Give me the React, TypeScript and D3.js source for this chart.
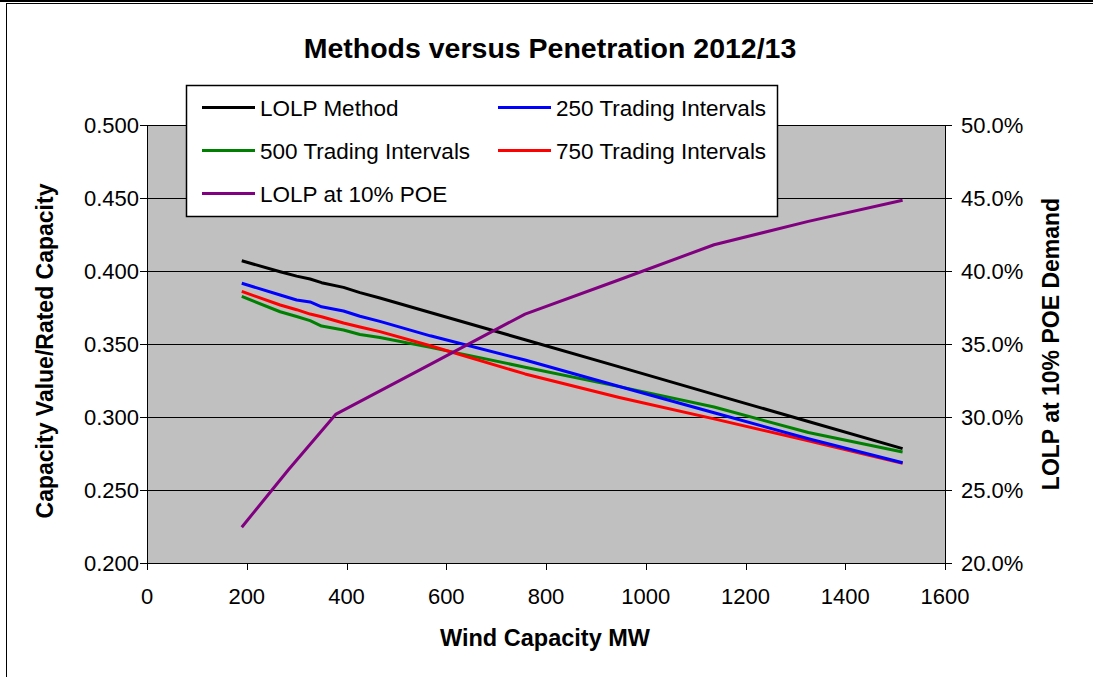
import React from "react";
import * as d3 from "d3";

// Wind capacity (MW) at which each capacity-value method was evaluated
const windMW = [190, 267, 300, 327, 350, 394, 427, 467, 568, 758, 947, 1137, 1326, 1515];
const lolpMethod = [0.407, 0.3995, 0.3965, 0.3945, 0.392, 0.3888, 0.3852, 0.3815, 0.3716, 0.3529, 0.3343, 0.3155, 0.2969, 0.2783];
const ti250 = [0.3916, 0.3836, 0.3801, 0.3788, 0.3755, 0.3726, 0.369, 0.3655, 0.3556, 0.339, 0.3209, 0.3029, 0.2851, 0.2687];
const ti500 = [0.3826, 0.3721, 0.3688, 0.366, 0.3623, 0.3596, 0.3565, 0.3545, 0.3477, 0.3341, 0.3208, 0.3068, 0.2894, 0.276];
const ti750 = [0.386, 0.3767, 0.3735, 0.3705, 0.3687, 0.3644, 0.3617, 0.3585, 0.3488, 0.3295, 0.3134, 0.2987, 0.2837, 0.2683];

// LOLP at 10% POE demand (percent), right axis
const poeMW = [190, 284, 379, 568, 758, 947, 1137, 1326, 1515];
const lolpPoe = [22.45, 26.4, 30.2, 33.6, 37.05, 39.4, 41.8, 43.4, 44.85];

const xTicks = [0, 200, 400, 600, 800, 1000, 1200, 1400, 1600];
const yLeftTicks = [0.2, 0.25, 0.3, 0.35, 0.4, 0.45, 0.5];
const yRightTicks = [20, 25, 30, 35, 40, 45, 50];

const title = "Methods versus Penetration 2012/13";
const xTitle = "Wind Capacity MW";
const yLeftTitle = "Capacity Value/Rated Capacity";
const yRightTitle = "LOLP at 10% POE Demand";

const legendItems = [
  { label: "LOLP Method", color: "#000000" },
  { label: "250 Trading Intervals", color: "#0000FF" },
  { label: "500 Trading Intervals", color: "#008000" },
  { label: "750 Trading Intervals", color: "#FF0000" },
  { label: "LOLP at 10% POE", color: "#800080" },
];

const W = 1093;
const H = 677;
const plot = { left: 147, right: 945, top: 125, bottom: 563 };
const FONT = "'Liberation Sans', Arial, sans-serif";

export default function App() {
  const x = d3.scaleLinear().domain([0, 1600]).range([plot.left, plot.right]);
  const yL = d3.scaleLinear().domain([0.2, 0.5]).range([plot.bottom, plot.top]);
  const yR = d3.scaleLinear().domain([20, 50]).range([plot.bottom, plot.top]);

  const leftLine = d3
    .line<[number, number]>()
    .x((d) => x(d[0]))
    .y((d) => yL(d[1]));
  const rightLine = d3
    .line<[number, number]>()
    .x((d) => x(d[0]))
    .y((d) => yR(d[1]));

  const methodSeries = [
    { values: ti500, color: "#008000" },
    { values: ti750, color: "#FF0000" },
    { values: ti250, color: "#0000FF" },
    { values: lolpMethod, color: "#000000" },
  ];

  const px = (v: number) => Math.round(v) + 0.5;

  const legend = { x: 186, y: 85, w: 591, h: 131 };
  const legendRows = [107.5, 150.5, 193.5];
  const legendCols = [202, 498];

  return (
    <svg
      width={W}
      height={H}
      style={{ position: "absolute", left: 0, top: 0, background: "#fff" }}
      fontFamily={FONT}
    >
      <rect x={0} y={0} width={W} height={H} fill="#fff" />
      {/* chart frame */}
      <line x1={0} x2={W} y1={1} y2={1} stroke="#000" strokeWidth={2} />
      <rect x={6.5} y={3.5} width={W + 10} height={H + 10} fill="none" stroke="#000" strokeWidth={1} />

      {/* plot area */}
      <rect
        x={plot.left}
        y={plot.top}
        width={plot.right - plot.left}
        height={plot.bottom - plot.top}
        fill="#C0C0C0"
      />
      {yLeftTicks.map((t) => (
        <line
          key={"g" + t}
          x1={plot.left}
          x2={plot.right}
          y1={px(yL(t))}
          y2={px(yL(t))}
          stroke="#000"
          strokeWidth={1}
        />
      ))}

      {/* axes */}
      <line x1={px(plot.left)} x2={px(plot.left)} y1={plot.top} y2={plot.bottom + 7} stroke="#000" />
      <line x1={px(plot.right)} x2={px(plot.right)} y1={plot.top} y2={plot.bottom + 7} stroke="#000" />
      <line x1={plot.left} x2={plot.right} y1={px(plot.bottom)} y2={px(plot.bottom)} stroke="#000" />

      {xTicks.map((t) => (
        <g key={"x" + t}>
          <line x1={px(x(t))} x2={px(x(t))} y1={plot.bottom} y2={plot.bottom + 7} stroke="#000" />
          <text x={x(t)} y={604} fontSize={22} textAnchor="middle" fill="#000">
            {t}
          </text>
        </g>
      ))}
      {yLeftTicks.map((t) => (
        <g key={"yl" + t}>
          <line x1={plot.left - 7} x2={plot.left} y1={px(yL(t))} y2={px(yL(t))} stroke="#000" />
          <text x={139} y={yL(t) + 8} fontSize={22} textAnchor="end" fill="#000">
            {d3.format(".3f")(t)}
          </text>
        </g>
      ))}
      {yRightTicks.map((t) => (
        <g key={"yr" + t}>
          <line x1={plot.right} x2={plot.right + 7} y1={px(yR(t))} y2={px(yR(t))} stroke="#000" />
          <text x={961} y={yR(t) + 8} fontSize={22} textAnchor="start" fill="#000">
            {t.toFixed(1) + "%"}
          </text>
        </g>
      ))}

      {/* series */}
      {methodSeries.map((s, i) => (
        <path
          key={"s" + i}
          d={leftLine(windMW.map((m, j) => [m, s.values[j]] as [number, number])) || ""}
          fill="none"
          stroke={s.color}
          strokeWidth={3}
          strokeLinejoin="round"
        />
      ))}
      <path
        d={rightLine(poeMW.map((m, j) => [m, lolpPoe[j]] as [number, number])) || ""}
        fill="none"
        stroke="#800080"
        strokeWidth={3}
        strokeLinejoin="round"
      />

      {/* legend */}
      <rect
        x={legend.x + 0.5}
        y={legend.y + 0.5}
        width={legend.w}
        height={legend.h}
        fill="#fff"
        stroke="#000"
        strokeWidth={1.5}
      />
      {legendItems.map((item, i) => {
        const col = i % 2;
        const row = Math.floor(i / 2);
        const lx = legendCols[col];
        const ly = legendRows[row];
        return (
          <g key={"l" + i}>
            <line x1={lx} x2={lx + 53} y1={ly} y2={ly} stroke={item.color} strokeWidth={3} />
            <text x={lx + 58} y={ly + 8} fontSize={22.5} fill="#000">
              {item.label}
            </text>
          </g>
        );
      })}

      {/* titles */}
      <text x={550} y={58} fontSize={28.5} fontWeight="bold" textAnchor="middle" fill="#000">
        {title}
      </text>
      <text x={545} y={646} fontSize={23.5} fontWeight="bold" textAnchor="middle" fill="#000">
        {xTitle}
      </text>
      <text
        transform={`translate(53, ${(plot.top + plot.bottom) / 2 + 7}) rotate(-90)`}
        fontSize={23}
        fontWeight="bold"
        textAnchor="middle"
        fill="#000"
      >
        {yLeftTitle}
      </text>
      <text
        transform={`translate(1059, ${(plot.top + plot.bottom) / 2}) rotate(-90)`}
        fontSize={23}
        fontWeight="bold"
        textAnchor="middle"
        fill="#000"
      >
        {yRightTitle}
      </text>
    </svg>
  );
}
